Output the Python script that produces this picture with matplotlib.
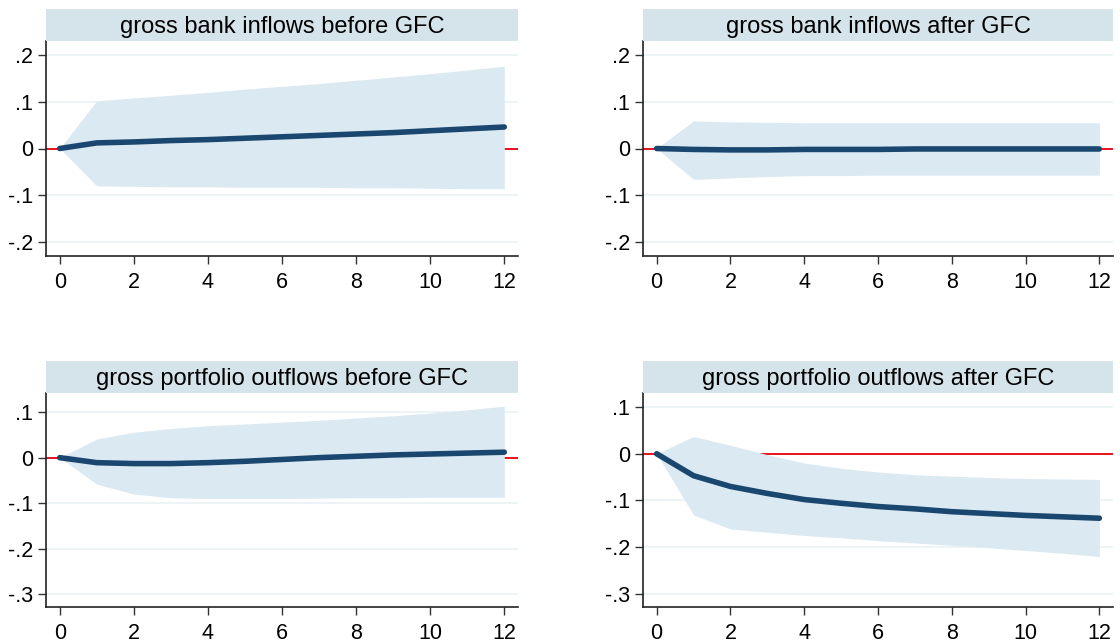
import numpy as np
import matplotlib
matplotlib.use("Agg")
import matplotlib.pyplot as plt

plt.rcParams['font.family'] = ['Liberation Sans', 'DejaVu Sans']

steps = np.arange(13)

# gross bank inflows before GFC
bank_pre_irf = [0, .012, .014, .017, .019, .022, .025, .028, .031, .034, .038, .042, .046]
bank_pre_hi = [0, .102, .108, .114, .12, .127, .133, .139, .146, .153, .160, .168, .176]
bank_pre_lo = [0, -.080, -.081, -.082, -.082, -.083, -.083, -.083, -.084, -.084, -.085, -.086, -.086]

# gross bank inflows after GFC
bank_post_irf = [0, -.002, -.003, -.003, -.002, -.002, -.002, -.001, -.001, -.001, -.001, -.001, -.001]
bank_post_hi = [0, .059, .057, .056, .055, .055, .055, .055, .055, .055, .055, .055, .055]
bank_post_lo = [0, -.066, -.063, -.06, -.058, -.058, -.057, -.057, -.057, -.057, -.057, -.057, -.057]

# gross portfolio outflows before GFC
port_pre_irf = [0, -.011, -.013, -.013, -.011, -.008, -.004, 0, .003, .006, .008, .010, .012]
port_pre_hi = [0, .041, .056, .064, .070, .074, .078, .082, .087, .092, .098, .105, .113]
port_pre_lo = [0, -.058, -.080, -.088, -.090, -.090, -.090, -.089, -.088, -.088, -.087, -.087, -.087]

# gross portfolio outflows after GFC
port_post_irf = [0, -.047, -.070, -.085, -.098, -.106, -.113, -.118, -.124, -.128, -.132, -.135, -.138]
port_post_hi = [0, .037, .018, -.002, -.020, -.031, -.039, -.045, -.048, -.051, -.053, -.054, -.055]
port_post_lo = [0, -.131, -.161, -.168, -.175, -.180, -.186, -.191, -.196, -.201, -.207, -.213, -.220]

titles = ["gross bank inflows before GFC", "gross bank inflows after GFC",
          "gross portfolio outflows before GFC", "gross portfolio outflows after GFC"]
irfs = [bank_pre_irf, bank_post_irf, port_pre_irf, port_post_irf]
his = [bank_pre_hi, bank_post_hi, port_pre_hi, port_post_hi]
los = [bank_pre_lo, bank_post_lo, port_pre_lo, port_post_lo]

top_ticks = [-.2, -.1, 0, .1, .2]
top_labels = ["-.2", "-.1", "0", ".1", ".2"]
bot_ticks = [-.3, -.2, -.1, 0, .1]
bot_labels = ["-.3", "-.2", "-.1", "0", ".1"]
x_ticks = [0, 2, 4, 6, 8, 10, 12]

band_col = "#dbe9f2"
bar_col = "#d5e3ea"
line_col = "#1a476f"

fig = plt.figure(figsize=(11.2, 6.44), dpi=100)
W, H = 1120, 644

# pixel boxes: left, right, plot top, plot bottom, title top
boxes = [(46, 518, 41, 256, 9), (643, 1113, 41, 256, 9),
         (46, 518, 393, 607, 361), (643, 1113, 393, 607, 361)]
ylims = [(-.23, .23), (-.23, .23), (-.328, .142), (-.328, .13)]

for i in range(4):
    l, r, t, b, tt = boxes[i]
    ax = fig.add_axes([l / W, 1 - b / H, (r - l) / W, (b - t) / H])
    tax = fig.add_axes([l / W, 1 - t / H, (r - l) / W, (t - tt) / H])
    tax.set_facecolor(bar_col)
    tax.set_xticks([])
    tax.set_yticks([])
    for s in tax.spines.values():
        s.set_visible(False)
    tax.text(0.5, 0.45, titles[i], ha="center", va="center", fontsize=17,
             transform=tax.transAxes)

    ax.axhline(0, color="#e8000b", lw=1.3, zorder=1)
    ax.fill_between(steps, los[i], his[i], color=band_col, lw=0, zorder=2)
    ax.plot(steps, irfs[i], color=line_col, lw=4, solid_capstyle="round", zorder=3)

    if i < 2:
        ax.set_yticks(top_ticks)
        ax.set_yticklabels(top_labels)
    else:
        ax.set_yticks(bot_ticks)
        ax.set_yticklabels(bot_labels)
    ax.set_ylim(ylims[i])
    ax.set_xlim(-0.37, 12.37)
    ax.set_xticks(x_ticks)
    ax.grid(axis="y", color="#eaf2f3", lw=1.2, zorder=0)
    ax.set_axisbelow(True)
    ax.tick_params(labelsize=15.5, length=5.5, width=1, color="#333333", pad=4)
    ax.tick_params(axis="x", pad=6)
    for s in ["top", "right"]:
        ax.spines[s].set_visible(False)
    for s in ["left", "bottom"]:
        ax.spines[s].set_color("#222222")
        ax.spines[s].set_linewidth(1.2)

fig.savefig("out.png", dpi=100)
